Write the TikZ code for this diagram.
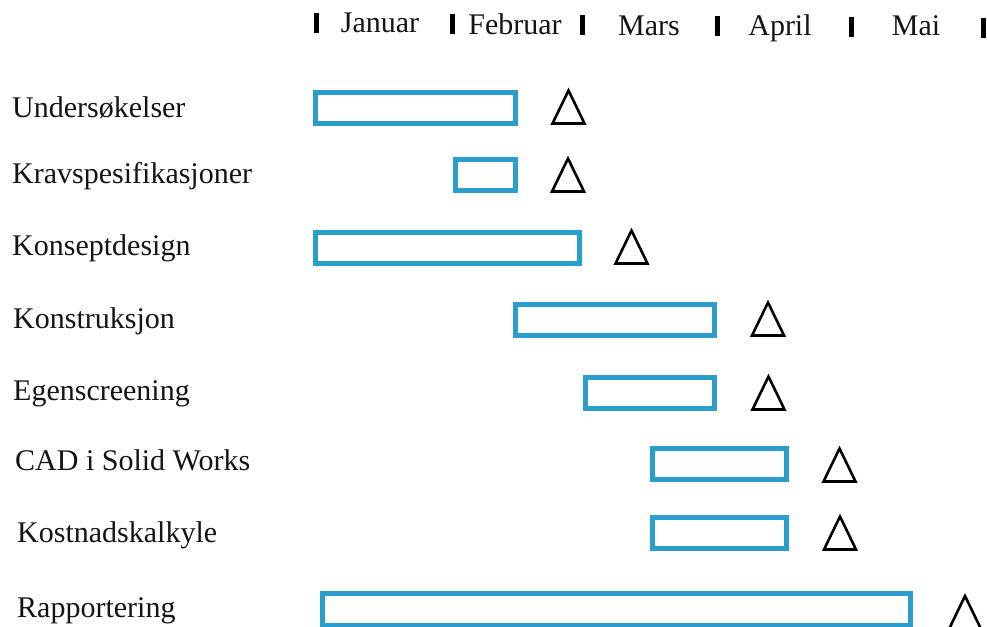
\documentclass[tikz,border=0pt]{standalone}
\usepackage{fontspec}
\setmainfont{Liberation Serif}
\definecolor{barborder}{HTML}{2A9FCD}
\definecolor{darktext}{HTML}{141414}
\tikzset{
  task/.style={anchor=base west, inner sep=0pt, font=\fontsize{30}{36}\selectfont, text=darktext},
  month/.style={anchor=base, inner sep=0pt, font=\fontsize{30}{36}\selectfont, text=darktext},
  bar/.style={rectangle, draw=barborder, line width=5pt, inner sep=0pt, minimum height=31pt},
  monthtick/.style={line width=5pt, draw=black},
  milestone/.pic={\draw[line width=2.6pt, line join=miter] (-16,0) -- (0,-33) -- (16,0) -- cycle;}
}
\begin{document}
\begin{tikzpicture}[x=1pt, y=-1pt]
\useasboundingbox (0,0) rectangle (987,626);
\clip (0,0) rectangle (987,626);

% month header
\foreach \tx [count=\i from 0] in {316.5, 452, 582, 717.5, 851, 983.5}
  \draw[monthtick] (\tx, 13+\i) -- (\tx, 33+\i);
\node[month] (jan) at (380, 33) {Januar};
\node[month] (feb) at (515, 35) {Februar};
\node[month] (mar) at (649, 36) {Mars};
\node[month] (apr) at (780, 36) {April};
\node[month] (mai) at (916, 36) {Mai};

% tasks
\node[task] (undersok) at (12, 117) {Undersøkelser};
\node[task] (krav) at (12, 183) {Kravspesifikasjoner};
\node[task] (konsept) at (12, 255) {Konseptdesign};
\node[task] (konstr) at (13, 328) {Konstruksjon};
\node[task] (egen) at (13, 400) {Egenscreening};
\node[task] (cad) at (15, 470) {CAD i Solid Works};
\node[task] (kostnad) at (17, 542) {Kostnadskalkyle};
\node[task] (rapport) at (17, 617) {Rapportering};

% bars
\node[bar, minimum width=200pt] (undersokbar) at (415.5, 107.5) {};
\node[bar, minimum width=60pt] (kravbar) at (485.5, 175) {};
\node[bar, minimum width=264pt] (konseptbar) at (447.5, 247.5) {};
\node[bar, minimum width=199pt] (konstrbar) at (615, 320) {};
\node[bar, minimum width=129pt] (egenbar) at (650, 392.5) {};
\node[bar, minimum width=134pt] (cadbar) at (719, 464) {};
\node[bar, minimum width=134pt] (kostnadbar) at (719.5, 533) {};
\node[bar, minimum width=588pt, minimum height=32pt] (rapportbar) at (616.5, 609.5) {};

% milestones
\pic at (568.5, 123.5) {milestone};
\pic at (568, 191.5) {milestone};
\pic at (631.5, 263.5) {milestone};
\pic at (768, 335.5) {milestone};
\pic at (768.5, 409.5) {milestone};
\pic at (839.5, 481.5) {milestone};
\pic at (840, 549.5) {milestone};
\pic at (965, 629) {milestone};

\end{tikzpicture}
\end{document}
